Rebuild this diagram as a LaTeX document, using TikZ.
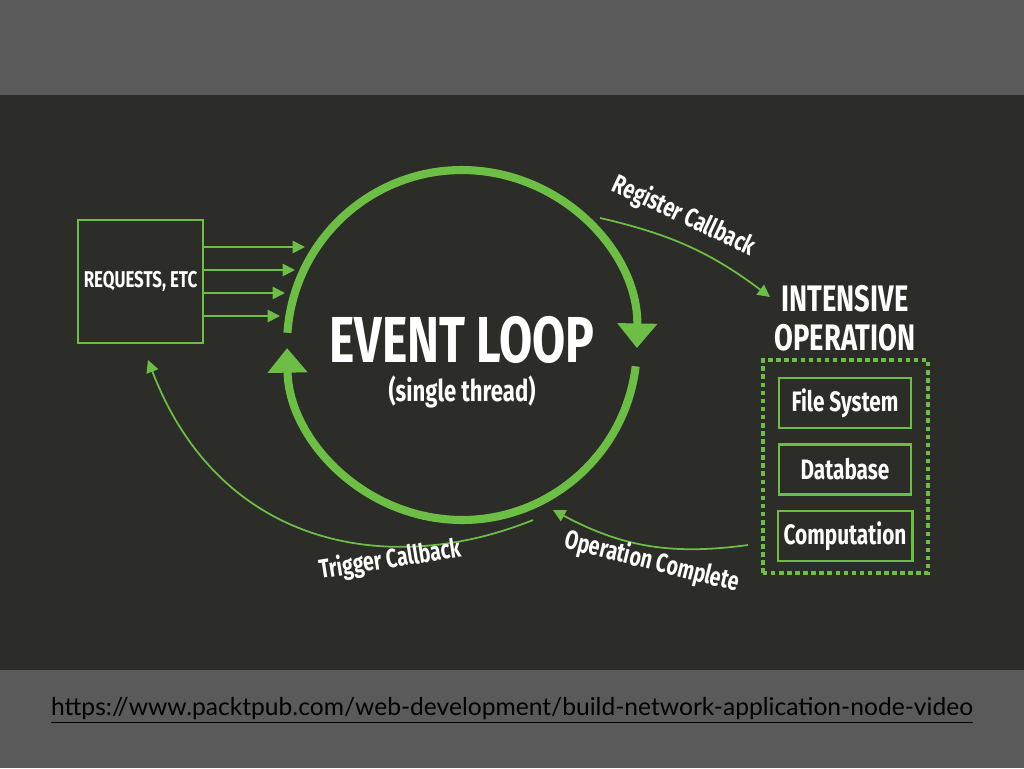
\documentclass[tikz,border=0pt]{standalone}
\usepackage{fontspec}
\setmainfont{Fira Sans}[FakeStretch=0.74]
\newfontfamily\urlfont{Lato}
\usetikzlibrary{arrows.meta,positioning,calc}
\definecolor{loopgreen}{HTML}{6CBE45}
\definecolor{panelgray}{HTML}{2C2C28}
\definecolor{framegray}{HTML}{5A5A5A}
\tikzset{
  opbox/.style={draw=loopgreen, line width=1.4pt, minimum width=2.64cm, minimum height=1cm, text=white, font=\fontsize{16}{16}\selectfont\bfseries},
  feedarrow/.style={draw=loopgreen, line width=1pt, -{Triangle[width=7pt,length=7pt]}},
  curvelabel/.style={text=white, font=\fontsize{15}{15}\selectfont\bfseries}
}
\begin{document}
\begin{tikzpicture}[x=0.02cm, y=0.02cm]
% Backgrounds
\fill[framegray] (0,0) rectangle (1024,768);
\fill[panelgray] (0,98) rectangle (1024,673);
\useasboundingbox (0,0) rectangle (1024,768);

% Event loop circle
\coordinate (centre) at (462,423);
\draw[loopgreen, line width=4.6pt, -{Triangle[width=22pt,length=14pt]}] ($(centre)+(176:175)$) arc[start angle=176, end angle=-1, radius=3.5cm];
\draw[loopgreen, line width=4.6pt, -{Triangle[width=22pt,length=14pt]}] ($(centre)+(-7:175)$) arc[start angle=-7, end angle=-179, radius=3.5cm];
\node[text=white, font=\fontsize{37}{37}\selectfont\bfseries] (loop) at (462,428) {EVENT LOOP};
\node[text=white, font=\fontsize{17}{17}\selectfont\bfseries, below=0pt of loop] (thread) {(single thread)};

% Requests
\node[draw=loopgreen, line width=1.4pt, minimum width=2.42cm, minimum height=2.46cm, text=white, font=\fontsize{13}{13}\selectfont\bfseries] (requests) at (140.5,486.5) {REQUESTS, ETC};
\foreach \py/\px in {247/305, 270/295, 293/285, 316/280} {
  \coordinate (reqend) at (\px,768-\py);
  \draw[feedarrow] (requests.east |- reqend) -- (reqend);
}

% Intensive operation
\node[text=white, font=\fontsize{21}{22}\selectfont\bfseries, align=center] (intensive) at (845,450) {INTENSIVE\\OPERATION};
\draw[loopgreen, line width=2.6pt, dotted] (763,195) rectangle (928,408);
\node[opbox] (files) at (845,365) {File System};
\node[opbox, below=0.28cm of files] (database) {Database};
\node[opbox, below=0.28cm of database] (compute) {Computation};

% Callback arrows
\coordinate (regstart) at (600,550);
\coordinate (regend) at (770,471);
\draw[feedarrow] (regstart) to[bend left=12] (regend);
\node[curvelabel, rotate=-25] at (684,552) {Register Callback};
\coordinate (opstart) at (748,223);
\coordinate (opend) at (553,258);
\draw[feedarrow] (opstart) to[bend left=18] (opend);
\node[curvelabel, rotate=-14] at (652,206) {Operation Complete};
\coordinate (trigstart) at (533,248);
\coordinate (trigend) at (148,408);
\draw[feedarrow] (trigstart) .. controls (390,190) and (220,220) .. (trigend);
\node[curvelabel, rotate=9] at (390,208) {Trigger Callback};

% Source link
\node[text=black, font=\urlfont\fontsize{14}{14}\selectfont] (link) at (512,58) {\underline{https://www.packtpub.com/web-development/build-network-application-node-video}};
\end{tikzpicture}
\end{document}
